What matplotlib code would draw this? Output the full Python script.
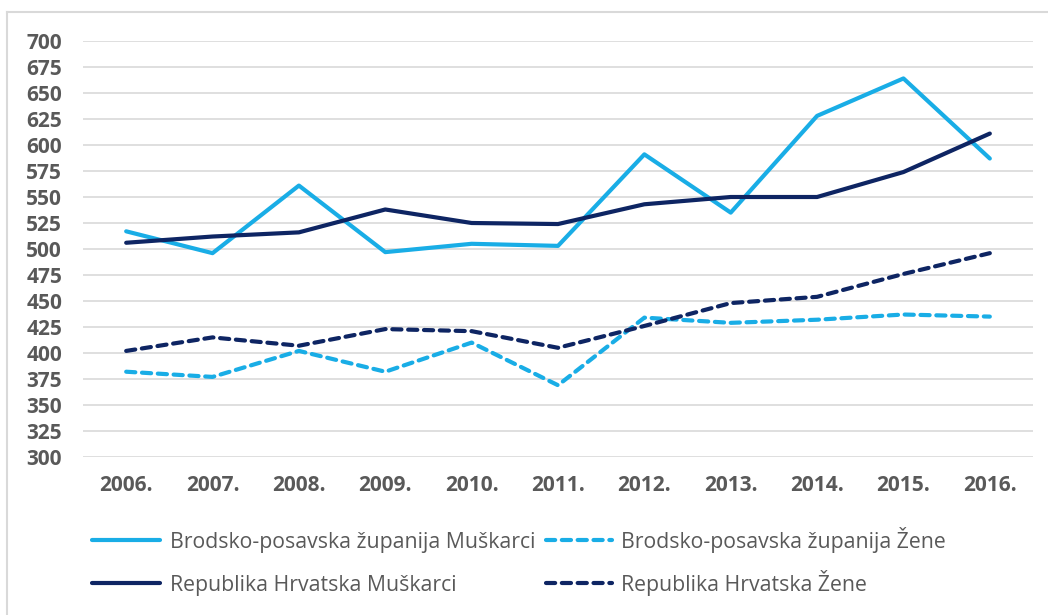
import matplotlib
matplotlib.use("Agg")
import matplotlib.pyplot as plt
from matplotlib.lines import Line2D

years = ["2006.", "2007.", "2008.", "2009.", "2010.", "2011.", "2012.", "2013.", "2014.", "2015.", "2016."]
bp_muski = [517, 496, 561, 497, 505, 503, 591, 535, 628, 664, 587]
bp_zene = [382, 377, 402, 382, 410, 369, 434, 429, 432, 437, 435]
rh_muski = [506, 512, 516, 538, 525, 524, 543, 550, 550, 574, 611]
rh_zene = [402, 415, 407, 423, 421, 405, 426, 448, 454, 476, 496]
labels = ["Brodsko-posavska županija Muškarci", "Brodsko-posavska županija Žene",
          "Republika Hrvatska Muškarci", "Republika Hrvatska Žene"]
yticks = list(range(300, 701, 25))

LIGHT = "#19ADE6"
DARK = "#0E2563"
TXT = "#595959"
plt.rcParams['font.family'] = ['Open Sans', 'DejaVu Sans']

W, H = 1048, 615
fig = plt.figure(figsize=(W / 100, H / 100), dpi=100)
ax = fig.add_axes([83/W, 1-457/H, (1033-83)/W, (457-41)/H])

x = list(range(len(years)))
dash = (0, (2.2, 1.6))
series = [(bp_muski, LIGHT, '-'), (bp_zene, LIGHT, dash), (rh_muski, DARK, '-'), (rh_zene, DARK, dash)]
for (vals, col, ls), lab in zip(series, labels):
    ax.plot(x, vals, color=col, lw=3, linestyle=ls, solid_capstyle='round',
            solid_joinstyle='round', dash_capstyle='round', label=lab)

ax.set_ylim(300, 700)
ax.set_xlim(-0.5, 10.5)
ax.set_yticks(yticks)
ax.set_xticks(x)
ax.set_xticklabels(years)
ax.grid(axis='y', color='#D9D9D9', lw=1.2)
ax.set_axisbelow(True)
for s in ax.spines.values():
    s.set_visible(False)
ax.tick_params(length=0, labelsize=15, labelcolor=TXT)
ax.tick_params(axis='y', pad=15)
ax.tick_params(axis='x', pad=13)
for t in ax.get_xticklabels() + ax.get_yticklabels():
    t.set_fontweight('bold')

# legend drawn manually in a 2x2 grid
handles_x = [(92, 160), (546, 612)]
text_x = [170, 621]
rows_y = [540, 583]
for i, ((vals, col, ls), lab) in enumerate(zip(series, labels)):
    c, r = i % 2, i // 2
    x0, x1 = handles_x[c]
    y = 1 - rows_y[r] / H
    fig.add_artist(Line2D([x0 / W, x1 / W], [y, y], transform=fig.transFigure, color=col, lw=3,
                          linestyle=ls, solid_capstyle='round', dash_capstyle='round'))
    fig.text(text_x[c] / W, 1 - (rows_y[r] + 8) / H, lab, color=TXT, fontsize=15.3,
             va='baseline', ha='left')

# chart border
fig.add_artist(Line2D([7/W, 7/W], [0, 1-12/H], transform=fig.transFigure, color='#D9D9D9', lw=1.5))
fig.add_artist(Line2D([7/W, 1], [1-12/H, 1-12/H], transform=fig.transFigure, color='#D9D9D9', lw=1.5))

fig.savefig("out.png", dpi=100, facecolor='white')
